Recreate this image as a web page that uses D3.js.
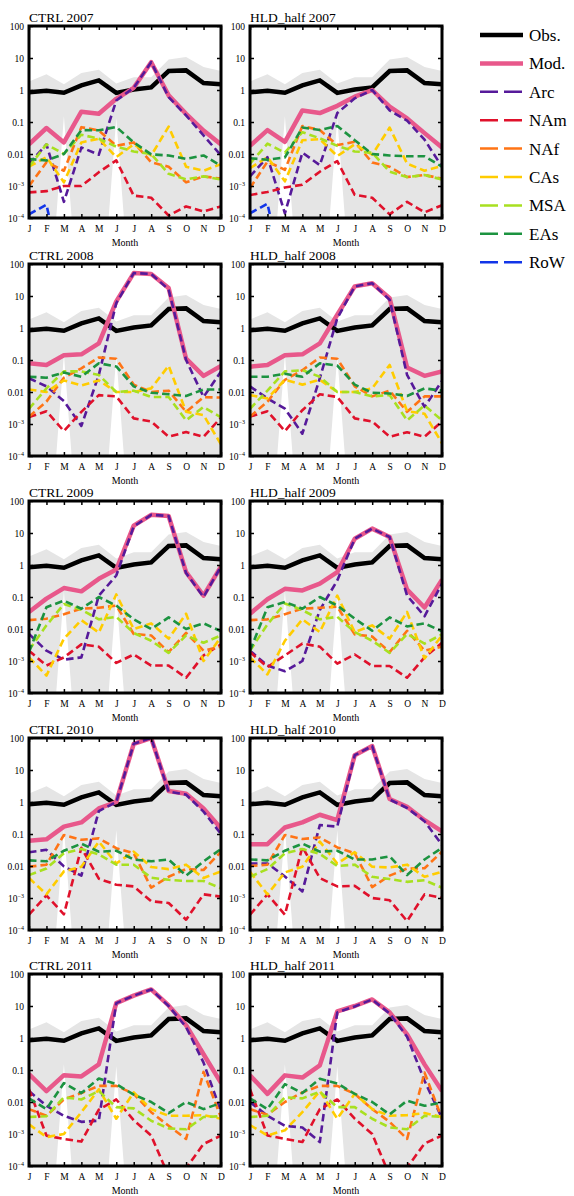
<!DOCTYPE html>
<html>
<head>
<meta charset="utf-8">
<script src="https://cdn.jsdelivr.net/npm/d3@7"></script>
<style>
  body { margin: 0; background: #fff; }
  text { font-family: "Liberation Serif", "Times New Roman", serif; fill: #000; }
</style>
</head>
<body>
<script>
const months = ["J", "F", "M", "A", "M", "J", "J", "A", "S", "O", "N", "D"]
const sourceKeys = ["obs", "mod", "arc", "nam", "naf", "cas", "msa", "eas", "row"]
const sourceNames = ["Obs.", "Mod.", "Arc", "NAm", "NAf", "CAs", "MSA", "EAs", "RoW"]
const yTicks = [1e2, 1e1, 1, 0.1, 0.01, 1e-3, 1e-4]
const yTickLabels = ["100", "10", "1", "0.1", "0.01", "10^-3", "10^-4"]

// observations, shared by every panel
const obsValues = [0.85, 0.95, 0.82, 1.4, 2.0, 0.81, 1.04, 1.2, 3.9, 4.1, 1.66, 1.5]
const bandUpper = [1.85, 3.1, 1.5, 3.4, 4.3, 1.6, 2.5, 2.5, 9, 10.7, 5.2, 3.9]
const bandLower = [1e-8, 1e-8, 0.15, 1e-8, 1e-8, 0.13, 1e-8, 1e-8, 1e-8, 1e-8, 1e-8, 1e-8]

const ctrl2007 = {
  mod: [0.02, 0.065, 0.023, 0.21, 0.18, 0.53, 1.17, 7.4, 0.68, 0.18, 0.054, 0.02],
  arc: [0.005, 0.02, 3.2e-4, 0.016, 0.0095, 0.47, 1.17, 7.4, 0.6, 0.16, 0.038, 0.009],
  nam: [6.3e-4, 6.9e-4, 1e-3, 1e-3, 2.7e-3, 6.3e-3, 5e-4, 4.3e-4, 1.2e-4, 2.3e-4, 1.6e-4, 2.3e-4],
  naf: [1e-3, 5.5e-3, 3e-3, 0.069, 0.054, 0.018, 0.023, 5.5e-3, 4e-3, 1.3e-3, 2e-3, 1.7e-3],
  cas: [4e-3, 8e-3, 1.3e-3, 0.023, 0.03, 8e-3, 0.02, 9e-3, 0.072, 4e-3, 3e-3, 4.8e-3],
  msa: [4e-3, 0.02, 0.01, 0.04, 0.03, 0.017, 0.012, 0.01, 2.4e-3, 1.6e-3, 2e-3, 1.6e-3],
  eas: [7e-3, 6.3e-3, 0.01, 0.056, 0.055, 0.07, 0.023, 0.0097, 9e-3, 7e-3, 9e-3, 4.3e-3],
  row: [1.3e-4, 2.6e-4, 1e-6, null, null, null, null, null, null, null, null, null]
}
const hld2007 = {
  mod: [0.018, 0.056, 0.024, 0.23, 0.19, 0.32, 0.62, 1.0, 0.3, 0.13, 0.045, 0.016],
  arc: [2e-3, 8e-3, 1.4e-4, 0.011, 4.5e-3, 0.19, 0.55, 1.0, 0.23, 0.11, 0.028, 4e-3],
  nam: [5.2e-4, 6.5e-4, 9e-4, 1.1e-3, 2.8e-3, 6e-3, 5.3e-4, 4.3e-4, 1.3e-4, 3.2e-4, 1.5e-4, 2.5e-4],
  naf: [8.6e-4, 5.8e-3, 3.2e-3, 0.075, 0.056, 0.019, 0.024, 5.4e-3, 4e-3, 1.9e-3, 2.2e-3, 1.7e-3],
  cas: [3.6e-3, 8e-3, 1.4e-3, 0.027, 0.029, 8.6e-3, 0.02, 9.5e-3, 0.067, 5e-3, 3e-3, 4.2e-3],
  msa: [5e-3, 0.021, 0.011, 0.048, 0.031, 0.018, 0.012, 0.011, 2.8e-3, 1.9e-3, 2.2e-3, 1.6e-3],
  eas: [7.4e-3, 6.6e-3, 7.8e-3, 0.067, 0.056, 0.075, 0.027, 0.01, 9e-3, 8.5e-3, 8.5e-3, 4e-3],
  row: [1.4e-4, 2.8e-4, 1e-6, null, null, null, null, null, null, null, null, null]
}
const ctrl2008 = {
  mod: [0.079, 0.07, 0.14, 0.15, 0.33, 6.8, 52, 49, 17.8, 0.11, 0.032, 0.065],
  arc: [0.027, 0.015, 5.2e-3, 8.7e-4, 0.034, 6, 52, 49, 16, 0.1, 7e-3, 0.044],
  nam: [1.65e-3, 2.5e-3, 6e-4, 2.4e-3, 8e-3, 7.3e-3, 1.5e-3, 1.2e-3, 4e-4, 5.6e-4, 4e-4, 1.6e-3],
  naf: [1.7e-3, 5e-3, 0.028, 0.055, 0.12, 0.11, 0.017, 0.01, 0.011, 2.4e-3, 6.9e-3, 6.7e-3],
  cas: [0.012, 0.01, 0.023, 0.016, 0.023, 0.01, 0.01, 0.013, 0.066, 2.4e-3, 1.9e-3, 2.3e-4],
  msa: [3e-3, 0.013, 0.044, 0.044, 0.034, 0.01, 0.011, 7e-3, 7e-3, 1.3e-3, 3.4e-3, 1.6e-3],
  eas: [0.03, 0.028, 0.041, 0.03, 0.079, 0.063, 0.015, 0.0095, 8.5e-3, 7.5e-3, 0.012, 0.012],
  row: [null, null, null, null, null, null, null, null, null, null, null, null]
}
const hld2008 = {
  mod: [0.062, 0.07, 0.14, 0.15, 0.33, 2.6, 20, 25, 8.5, 0.058, 0.032, 0.044],
  arc: [0.015, 6.3e-3, 3e-3, 5e-4, 0.027, 2, 20, 25, 7.6, 0.034, 3.4e-3, 0.022],
  nam: [1.7e-3, 2.5e-3, 6e-4, 2.7e-3, 8.5e-3, 7e-3, 1.5e-3, 1.2e-3, 4e-4, 5.5e-4, 4e-4, 1.2e-3],
  naf: [1.7e-3, 5e-3, 0.024, 0.048, 0.12, 0.11, 0.015, 7.3e-3, 0.011, 2.4e-3, 7.3e-3, 7.3e-3],
  cas: [8e-3, 6.3e-3, 0.024, 0.017, 0.024, 0.01, 0.01, 0.013, 0.07, 2.5e-3, 2.1e-3, 2.5e-4],
  msa: [3e-3, 0.011, 0.044, 0.048, 0.03, 0.01, 0.01, 7.3e-3, 8e-3, 1.3e-3, 3.8e-3, 1.3e-3],
  eas: [0.03, 0.03, 0.037, 0.03, 0.079, 0.067, 0.017, 0.0095, 9e-3, 7.5e-3, 0.013, 0.011],
  row: [null, null, null, null, null, null, null, null, null, null, null, null]
}
const ctrl2009 = {
  mod: [0.034, 0.089, 0.19, 0.15, 0.37, 0.72, 17, 37, 34, 0.6, 0.11, 0.91],
  arc: [7e-3, 2.1e-3, 1.1e-3, 1.3e-3, 0.11, 0.47, 16, 37, 34, 0.56, 0.1, 0.9],
  nam: [2.1e-3, 7.2e-4, 1.3e-3, 3.3e-3, 2.8e-3, 8.7e-4, 1.6e-3, 7.2e-4, 7.2e-4, 3e-4, 1.5e-3, 3.3e-3],
  naf: [0.019, 0.021, 0.029, 0.043, 0.046, 0.054, 7e-3, 6.3e-3, 1.9e-3, 7.5e-3, 2.1e-3, 2.8e-3],
  cas: [1.3e-3, 3.5e-4, 5e-3, 0.019, 7.7e-3, 0.12, 0.01, 0.015, 5e-3, 0.03, 1e-3, 5.6e-3],
  msa: [2.2e-3, 0.013, 0.06, 0.04, 0.02, 0.024, 7.5e-3, 4.3e-3, 1.8e-3, 6.3e-3, 3.7e-3, 6.3e-3],
  eas: [1.9e-3, 0.048, 0.077, 0.043, 0.1, 0.054, 0.02, 0.01, 0.023, 0.01, 0.015, 8.5e-3],
  row: [1.1e-4, 1e-6, null, null, null, null, null, null, null, null, null, null]
}
const hld2009 = {
  mod: [0.03, 0.085, 0.18, 0.16, 0.26, 0.6, 6.6, 13.7, 7.5, 0.17, 0.047, 0.35],
  arc: [2.1e-3, 7.2e-4, 4.8e-4, 1e-3, 0.039, 0.33, 6.6, 13.7, 7.5, 0.11, 0.025, 0.26],
  nam: [1.9e-3, 6.5e-4, 1.5e-3, 3.5e-3, 2.8e-3, 8.3e-4, 1.6e-3, 7e-4, 7e-4, 3e-4, 1.3e-3, 3.7e-3],
  naf: [0.019, 0.02, 0.029, 0.043, 0.046, 0.05, 6.8e-3, 5.8e-3, 1.9e-3, 8.8e-3, 2.1e-3, 2.8e-3],
  cas: [1.3e-3, 3.8e-4, 4.3e-3, 0.02, 8e-3, 0.11, 8e-3, 0.013, 5e-3, 0.034, 1.2e-3, 6.3e-3],
  msa: [2.1e-3, 0.014, 0.063, 0.039, 0.02, 0.024, 8e-3, 4.3e-3, 1.8e-3, 7e-3, 3.5e-3, 6.8e-3],
  eas: [2.1e-3, 0.048, 0.07, 0.043, 0.1, 0.054, 0.021, 8.8e-3, 0.023, 0.012, 0.015, 8.5e-3],
  row: [1.2e-4, 1e-6, null, null, null, null, null, null, null, null, null, null]
}
const ctrl2010 = {
  mod: [0.062, 0.068, 0.17, 0.23, 0.63, 1.0, 66, 100, 2.2, 1.8, 0.63, 0.15],
  arc: [0.027, 0.032, 0.0097, 5e-3, 0.52, 1.0, 66, 100, 2.1, 1.7, 0.5, 0.1],
  nam: [3e-4, 1.2e-3, 3.1e-4, 0.037, 4e-3, 2.6e-3, 2.3e-3, 7.9e-4, 7e-4, 2.1e-4, 1.3e-3, 1.1e-3],
  naf: [9.5e-3, 0.011, 0.093, 0.066, 0.073, 0.036, 0.025, 2.1e-3, 4.6e-3, 8e-3, 7.5e-3, 0.028],
  cas: [4.2e-3, 1.3e-3, 6.8e-3, 9.5e-3, 0.058, 0.012, 0.028, 9.3e-3, 8e-3, 0.011, 4.2e-3, 6.8e-3],
  msa: [5.2e-3, 8.4e-3, 0.025, 0.034, 0.023, 0.011, 0.011, 4.3e-3, 3.7e-3, 3.4e-3, 3.4e-3, 2e-3],
  eas: [0.015, 0.014, 0.03, 0.05, 0.028, 0.03, 0.016, 0.014, 0.016, 5e-3, 0.014, 0.034],
  row: [1e-6, 1.15e-4, 1e-6, null, null, null, null, null, null, null, null, null]
}
const hld2010 = {
  mod: [0.048, 0.048, 0.16, 0.23, 0.4, 0.27, 29, 56, 1.24, 0.71, 0.27, 0.12],
  arc: [0.012, 0.012, 4.7e-3, 1.6e-3, 0.19, 0.17, 29, 56, 1.2, 0.65, 0.25, 0.046],
  nam: [3e-4, 1.3e-3, 3e-4, 0.04, 4.2e-3, 2.3e-3, 2.4e-3, 1e-3, 8.5e-4, 1.9e-4, 1.3e-3, 1e-3],
  naf: [0.01, 0.011, 0.093, 0.07, 0.078, 0.038, 0.025, 2.2e-3, 5e-3, 8.3e-3, 8.5e-3, 0.028],
  cas: [6.6e-3, 1.3e-3, 6.3e-3, 9.5e-3, 0.058, 0.012, 0.027, 9.5e-3, 9e-3, 0.011, 4.6e-3, 6.6e-3],
  msa: [4.6e-3, 8e-3, 0.025, 0.034, 0.024, 0.01, 0.011, 4.6e-3, 3.9e-3, 3.2e-3, 3.6e-3, 2.1e-3],
  eas: [0.016, 0.015, 0.03, 0.05, 0.028, 0.03, 0.016, 0.016, 0.02, 5.2e-3, 0.016, 0.037],
  row: [null, null, null, null, null, null, null, null, null, null, null, null]
}
const ctrl2011 = {
  mod: [0.074, 0.022, 0.069, 0.063, 0.15, 12.3, 21, 33, 10.4, 2.5, 0.31, 0.04],
  arc: [0.022, 7.6e-3, 3.7e-3, 2.4e-3, 2.6e-3, 12.3, 21, 33, 10, 2.2, 0.17, 5e-3],
  nam: [0.025, 8.9e-4, 7e-4, 5.8e-4, 5.8e-3, 0.012, 2.7e-3, 8.9e-4, 4.8e-5, 8.5e-5, 4.9e-4, 8.9e-4],
  naf: [6e-3, 3.7e-3, 0.012, 0.019, 0.032, 0.032, 0.018, 4.8e-3, 1.8e-3, 7e-4, 0.087, 3.3e-3],
  cas: [2e-3, 8e-4, 1e-3, 4.8e-3, 0.025, 3e-3, 0.02, 6e-3, 3.7e-3, 3.7e-3, 3.9e-3, 3e-3],
  msa: [3.4e-3, 3.6e-3, 0.014, 0.012, 0.022, 6.9e-3, 6.3e-3, 2.6e-3, 1.5e-3, 1.4e-3, 3.4e-3, 3.6e-3],
  eas: [0.013, 6e-3, 0.039, 0.019, 0.054, 0.036, 0.017, 0.01, 4.5e-3, 0.01, 6e-3, 9.3e-3],
  row: [null, null, null, null, null, null, null, null, null, null, null, null]
}
const hld2011 = {
  mod: [0.068, 0.018, 0.068, 0.058, 0.14, 6.8, 10, 16, 6.3, 1.3, 0.15, 0.022],
  arc: [0.01, 3.7e-3, 1.8e-3, 1.6e-3, 5.6e-4, 6.3, 9.7, 16, 5.8, 1.1, 0.046, 3.1e-3],
  nam: [0.025, 9e-4, 7e-4, 5.6e-4, 6e-3, 0.012, 3e-3, 1e-3, 5e-5, 9e-5, 5e-4, 9e-4],
  naf: [6e-3, 4e-3, 0.01, 0.02, 0.032, 0.032, 0.018, 6e-3, 2.4e-3, 7e-4, 0.083, 3e-3],
  cas: [1.9e-3, 9e-4, 1.3e-3, 4.8e-3, 0.022, 3e-3, 0.018, 6e-3, 3.7e-3, 3.9e-3, 4.5e-3, 3.4e-3],
  msa: [3.4e-3, 3.7e-3, 0.014, 0.013, 0.021, 6.9e-3, 6.9e-3, 3e-3, 1.6e-3, 1.4e-3, 3.7e-3, 3.4e-3],
  eas: [0.013, 6e-3, 0.036, 0.019, 0.053, 0.038, 0.018, 0.01, 4.1e-3, 0.011, 7.6e-3, 9.7e-3],
  row: [null, null, null, null, null, null, null, null, null, null, null, null]
}

const panelTitles = ["CTRL 2007", "HLD_half 2007", "CTRL 2008", "HLD_half 2008", "CTRL 2009",
  "HLD_half 2009", "CTRL 2010", "HLD_half 2010", "CTRL 2011", "HLD_half 2011"]
const panelData = [ctrl2007, hld2007, ctrl2008, hld2008, ctrl2009, hld2009, ctrl2010, hld2010, ctrl2011, hld2011]

// styles
const colors = {
  obs: "#000000", mod: "#e8588b", arc: "#561a9a", nam: "#e0112b", naf: "#ff7415",
  cas: "#ffcc00", msa: "#a8e020", eas: "#1c9340", row: "#1235e8"
}
const colLeft = [29, 250]
const rowTop = [26, 264, 501, 738, 974]
const plotW = 192
const plotH = 192

const width = 574
const height = 1196

const svg = d3.select("body").append("svg")
  .attr("width", width)
  .attr("height", height)

panelTitles.forEach((title, i) => {
  const left = colLeft[i % 2]
  const top = rowTop[Math.floor(i / 2)]
  const d = panelData[i]

  const x = d3.scaleLinear().domain([0, 11]).range([0, plotW])
  const y = d3.scaleLog().domain([1e-4, 1e2]).range([plotH, 0])

  const g = svg.append("g").attr("transform", `translate(${left},${top})`)

  g.append("defs").append("clipPath").attr("id", "clip" + i)
    .append("rect").attr("width", plotW).attr("height", plotH)

  const plot = g.append("g").attr("clip-path", `url(#clip${i})`)

  // obs range band
  const area = d3.area()
    .x((v, k) => x(k))
    .y0((v, k) => y(bandLower[k]))
    .y1(v => y(v))
  plot.append("path").attr("d", area(bandUpper)).attr("fill", "#e5e5e5")

  const line = d3.line()
    .defined(v => v != null)
    .x((v, k) => x(k))
    .y(v => y(v))

  plot.append("path").attr("d", line(obsValues))
    .attr("fill", "none").attr("stroke", colors.obs).attr("stroke-width", 4.5)

  sourceKeys.slice(1).forEach(key => {
    const dashed = key !== "mod"
    plot.append("path").attr("d", line(d[key]))
      .attr("fill", "none")
      .attr("stroke", colors[key])
      .attr("stroke-width", dashed ? 2.6 : 4.5)
      .attr("stroke-dasharray", dashed ? "7.5,4" : null)
      .attr("stroke-linejoin", "round")
  })

  // axes
  const axisL = g.append("g").call(d3.axisLeft(y).tickValues(yTicks).tickSize(-4).tickPadding(5))
  axisL.selectAll("text").each(function (v) {
    const label = yTickLabels[yTicks.indexOf(v)]
    const t = d3.select(this).text(null).attr("font-size", 9.5)
    if (label.includes("^")) {
      const [base, exp] = label.split("^")
      t.append("tspan").text(base)
      t.append("tspan").attr("font-size", 6).attr("dy", -4).text(exp.replace("-", "\u2212"))
    } else {
      t.text(label)
    }
  })
  g.append("g").attr("transform", `translate(${plotW},0)`)
    .call(d3.axisRight(y).tickValues(yTicks).tickSize(-4).tickFormat(""))
  g.append("g").attr("transform", `translate(0,${plotH})`)
    .call(d3.axisBottom(x).tickValues(d3.range(12)).tickSize(-4).tickPadding(7).tickFormat(k => months[k]))
    .selectAll("text").attr("font-size", 9.5)
  g.append("g")
    .call(d3.axisTop(x).tickValues(d3.range(12)).tickSize(-4).tickFormat(""))

  g.selectAll(".domain").remove()
  g.selectAll(".tick line").attr("stroke", "#000").attr("stroke-width", 1.5)

  g.append("rect").attr("width", plotW).attr("height", plotH)
    .attr("fill", "none").attr("stroke", "#000").attr("stroke-width", 3)

  g.append("text").attr("x", 0).attr("y", -4.5)
    .attr("font-size", 13.5).text(title)

  g.append("text").attr("x", plotW / 2).attr("y", plotH + 28)
    .attr("text-anchor", "middle").attr("font-size", 10).text("Month")
})

// legend
const legend = svg.append("g").attr("transform", "translate(480,35)")
sourceKeys.forEach((key, k) => {
  const row = legend.append("g").attr("transform", `translate(0,${k * 28.4})`)
  const dashed = k > 1
  row.append("line").attr("x1", 0).attr("x2", 43)
    .attr("stroke", colors[key])
    .attr("stroke-width", dashed ? 2.5 : 4.5)
    .attr("stroke-dasharray", dashed ? "18,6" : null)
  row.append("text").attr("x", 49).attr("y", 6)
    .attr("font-size", 17).text(sourceNames[k])
})
</script>
</body>
</html>
